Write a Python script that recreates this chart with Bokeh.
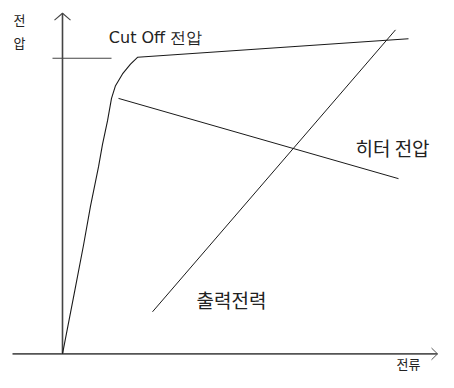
from bokeh.plotting import figure
from bokeh.models import Range1d
from bokeh.core.properties import value
from bokeh.embed import file_html
from bokeh.resources import INLINE

# Schematic coordinates (pixel space of the diagram)
axis_y_x = [62, 62]
axis_y_y = [361, 13]
arrow_y_x = [54, 62, 70]
arrow_y_y = [20, 13, 20]
axis_x_x = [12, 437]
axis_x_y = [361, 361]
arrow_x_x = [431, 437, 431]
arrow_x_y = [355, 361, 367]
cutoff_x = [52, 111]
cutoff_y = [59, 59]

# terminal voltage curve
volt_x = [62, 74, 83, 90, 98, 102, 107, 111, 115, 122, 130, 137, 408]
volt_y = [361, 298, 250, 210, 170, 147, 123, 100, 87, 75, 65, 58, 39]
# heater voltage
heat_x = [118, 398]
heat_y = [100, 182]
# output power
pow_x = [152, 395]
pow_y = [318, 30]

labels = ["전\n압", "Cut Off 전압", "히터 전압", "출력전력", "전류"]
lab_x = [19, 155, 392, 231, 408]
lab_y = [31, 38, 150, 305, 380]
lab_size = ["13px", "16px", "19px", "19px", "13px"]
lab_base = ["middle", "middle", "middle", "middle", "bottom"]
lab_font = ["Noto Sans CJK KR", "DejaVu Sans", "Noto Sans CJK KR",
            "Noto Sans CJK KR", "Noto Sans CJK KR"]

p = figure(width=438, height=372, output_backend="svg", toolbar_location=None,
           x_range=Range1d(0, 438), y_range=Range1d(380, 0),
           min_border=0, outline_line_color=None)
p.axis.visible = False
p.grid.visible = False
p.background_fill_color = "white"
p.border_fill_color = "white"

p.line(axis_y_x, axis_y_y, line_color="#444444", line_width=1.6)
p.line(arrow_y_x, arrow_y_y, line_color="#444444", line_width=1.1)
p.line(axis_x_x, axis_x_y, line_color="#555555", line_width=1.6)
p.line(arrow_x_x, arrow_x_y, line_color="#555555", line_width=1.0)
p.line(cutoff_x, cutoff_y, line_color="#444444", line_width=1.2)

p.line(volt_x, volt_y, line_color="#1a1a1a", line_width=1.1)
p.line(heat_x, heat_y, line_color="#1a1a1a", line_width=1.0)
p.line(pow_x, pow_y, line_color="#1a1a1a", line_width=1.0)

for t, x, y, s, f, b in zip(labels, lab_x, lab_y, lab_size, lab_font, lab_base):
    p.text(x=[x], y=[y], text=[t], text_font=value(f), text_font_size=s,
           text_align="center", text_baseline=b, text_color="#222222",
           text_line_height=1.2)

open("out.html", "w").write(file_html(p, INLINE))
